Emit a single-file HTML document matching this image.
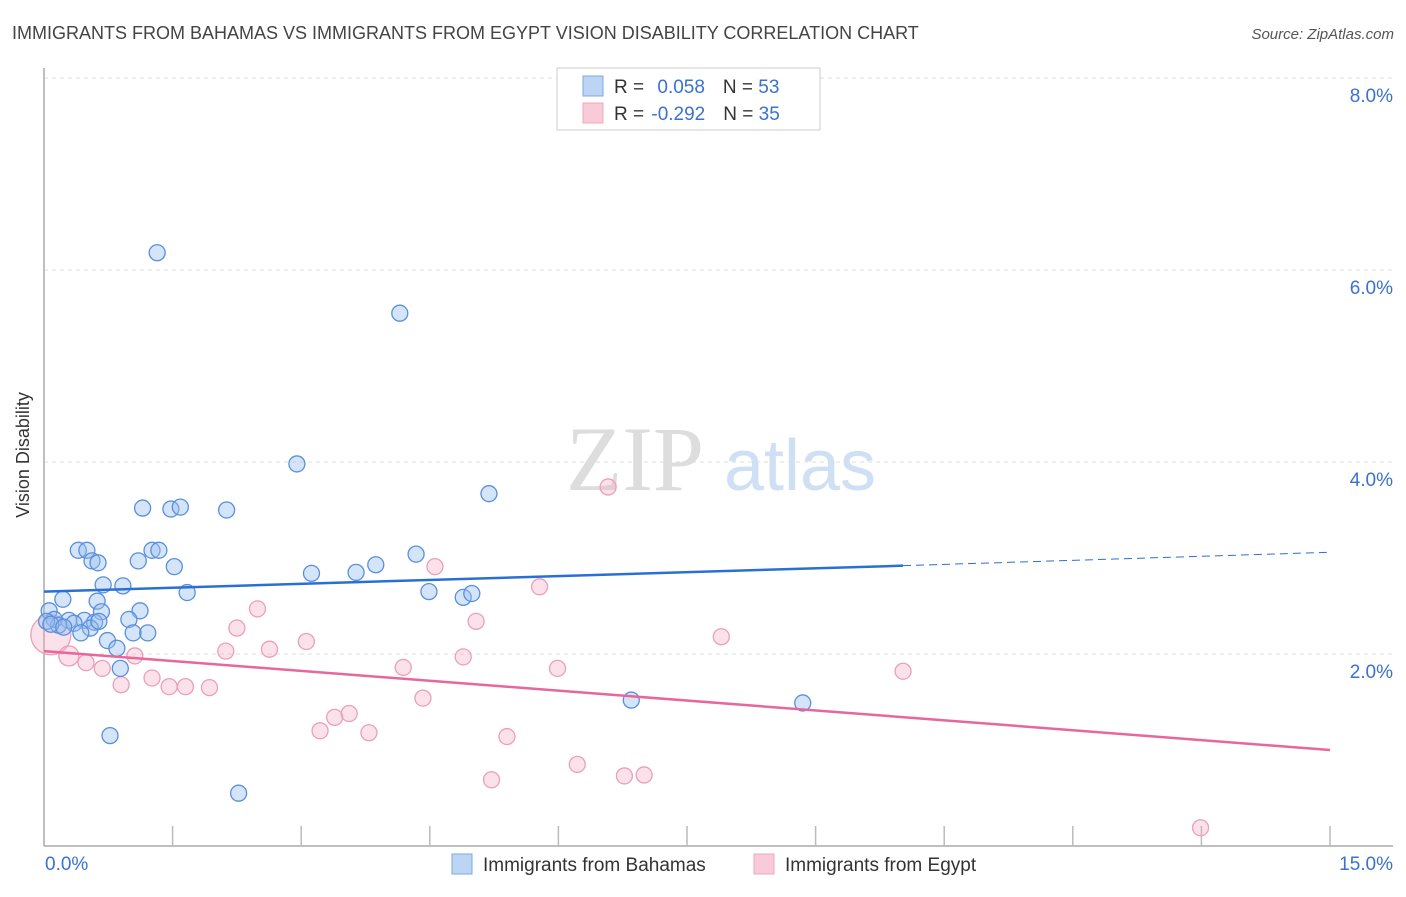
<!DOCTYPE html>
<html><head><meta charset="utf-8"><style>
body{margin:0;background:#fff;font-family:"Liberation Sans",sans-serif}
</style></head><body>
<svg width="1406" height="892" xmlns="http://www.w3.org/2000/svg" id="chart">
<text x="12" y="39" font-size="18" fill="#444">IMMIGRANTS FROM BAHAMAS VS IMMIGRANTS FROM EGYPT VISION DISABILITY CORRELATION CHART</text>
<text x="1394" y="39" font-size="15" fill="#555" font-style="italic" text-anchor="end">Source: ZipAtlas.com</text>
<text x="29" y="455" font-size="18" fill="#333" text-anchor="middle" transform="rotate(-90 29 455)">Vision Disability</text>
<g><text x="635" y="490" font-size="92" fill="#ddd" font-family="Liberation Serif,serif" text-anchor="middle">ZIP</text><text x="800" y="490" font-size="72" fill="#cfe0f5" text-anchor="middle">atlas</text></g>
<g id="grid"></g><g id="axes"></g><g id="pts"></g><g id="lines"></g>
<g>
<rect x="557" y="68" width="263" height="62" fill="#fff" stroke="#ccc"/>
<rect x="583" y="76" width="20" height="20" fill="#bcd5f5" stroke="#7fa8e0"/>
<rect x="583" y="103" width="20" height="20" fill="#f9cbd9" stroke="#ecaabf"/>
<text x="614" y="93" font-size="19" fill="#333">R = <tspan fill="#3a72d0" dx="8">0.058</tspan><tspan dx="18" fill="#333">N = </tspan><tspan fill="#3a72d0">53</tspan></text>
<text x="614" y="120" font-size="19" fill="#333">R = <tspan fill="#3a72d0" dx="2">-0.292</tspan><tspan dx="18" fill="#333">N = </tspan><tspan fill="#3a72d0">35</tspan></text>
</g>
<g>
<rect x="452" y="854" width="20" height="20" fill="#bcd5f5" stroke="#7fa8e0"/>
<text x="483" y="871" font-size="19" fill="#333">Immigrants from Bahamas</text>
<rect x="754" y="854" width="20" height="20" fill="#f9cbd9" stroke="#ecaabf"/>
<text x="785" y="871" font-size="19" fill="#333">Immigrants from Egypt</text>
</g>
</svg>
<script>
const blueX=[1.32,4.15,2.95,5.19,1.15,1.48,1.59,2.13,0.40,0.50,1.26,1.34,0.56,0.63,1.10,1.52,4.34,3.87,3.12,3.64,0.69,0.92,1.67,4.49,4.89,4.99,0.22,0.62,0.06,0.67,1.12,0.12,0.29,0.47,0.59,0.35,0.99,0.54,0.17,0.43,1.04,1.21,0.74,0.85,0.89,6.85,8.85,0.77,2.27,0.03,0.08,0.23,0.64];
const blueY=[6.18,5.55,3.98,3.67,3.52,3.51,3.53,3.50,3.08,3.08,3.08,3.08,2.97,2.95,2.97,2.91,3.04,2.93,2.84,2.85,2.72,2.71,2.64,2.65,2.59,2.63,2.57,2.55,2.45,2.44,2.45,2.36,2.35,2.35,2.33,2.32,2.36,2.27,2.30,2.22,2.22,2.22,2.14,2.06,1.85,1.52,1.49,1.15,0.55,2.34,2.31,2.28,2.34];
const pinkX=[6.58,4.56,5.78,2.49,5.04,2.25,7.90,3.06,0.08,2.63,2.12,0.29,1.06,4.89,0.49,0.68,4.19,5.99,10.02,1.26,0.90,1.46,1.65,1.93,4.42,3.56,3.39,3.22,3.79,5.40,6.22,6.77,7.00,5.22,13.49];
const pinkY=[3.74,2.91,2.70,2.47,2.34,2.27,2.18,2.13,2.20,2.05,2.03,1.98,1.98,1.97,1.91,1.85,1.86,1.85,1.82,1.75,1.68,1.66,1.66,1.65,1.54,1.38,1.34,1.20,1.18,1.14,0.85,0.73,0.74,0.69,0.19];
const pinkR=[8,8,8,8,8,8,8,8,20,8,8,10,8,8,8,8,8,8,8,8,8,8,8,8,8,8,8,8,8,8,8,8,8,8,8];
const blueTrend=[2.65,2.92,3.06]; const blueTrendX=[0,10.02,15];
const pinkTrend=[2.03,1.00];
const yTicks=[2,4,6,8]; const yTickLabels=["2.0%","4.0%","6.0%","8.0%"];
const xTicks=[0,1.5,3,4.5,6,7.5,9,10.5,12,13.5,15];
const NS="http://www.w3.org/2000/svg";
const sx=v=>44+v*(1330-44)/15, sy=v=>846-v*96;
function mk(tag,attrs,parent){const e=document.createElementNS(NS,tag);for(const k in attrs)e.setAttribute(k,attrs[k]);document.getElementById(parent).appendChild(e);return e;}
yTicks.forEach((t,i)=>{
 const l=mk('line',{x1:44,x2:1393,y1:sy(t),y2:sy(t),stroke:'#ddd','stroke-dasharray':'4,4'},'grid');
 
 
 const tx=mk('text',{x:1393,y:sy(t)+24,'font-size':19,fill:'#3a72d0','text-anchor':'end'},'grid');
 tx.textContent=yTickLabels[i];
 
 
});
const ax=mk('line',{x1:44,x2:44,y1:68,y2:846,stroke:'#aaa','stroke-width':1.5},'axes');


const bx=mk('line',{x1:44,x2:1393,y1:846,y2:846,stroke:'#aaa','stroke-width':1.5},'axes');


xTicks.forEach(t=>{if(t===0)return;
 const l=mk('line',{x1:sx(t),x2:sx(t),y1:826,y2:846,stroke:'#bbb','stroke-width':1.5},'axes');
 
 });
const x0=mk('text',{x:45,y:870,'font-size':19,fill:'#3a72d0'},'axes');x0.textContent='0.0%';


const x1=mk('text',{x:1393,y:870,'font-size':19,fill:'#3a72d0','text-anchor':'end'},'axes');x1.textContent='15.0%';


pinkX.forEach((v,i)=>{const c=mk('circle',{cx:sx(v),cy:sy(pinkY[i]),r:pinkR[i],fill:'rgba(244,170,195,0.35)',stroke:'#eaa0b8','stroke-width':1.3},'pts');
 
 });
blueX.forEach((v,i)=>{const c=mk('circle',{cx:sx(v),cy:sy(blueY[i]),r:8,fill:'rgba(150,190,240,0.4)',stroke:'#5a8fdc','stroke-width':1.3},'pts');
 
 });
const b1=mk('line',{x1:sx(blueTrendX[0]),y1:sy(blueTrend[0]),x2:sx(blueTrendX[1]),y2:sy(blueTrend[1]),stroke:'#2a6fd6','stroke-width':2.5},'lines');


const b2=mk('line',{x1:sx(blueTrendX[1]),y1:sy(blueTrend[1]),x2:sx(blueTrendX[2]),y2:sy(blueTrend[2]),stroke:'#2a6fd6','stroke-width':1,'stroke-dasharray':'8,5'},'lines');


const p1=mk('line',{x1:sx(0),y1:sy(pinkTrend[0]),x2:sx(15),y2:sy(pinkTrend[1]),stroke:'#e8679a','stroke-width':2.5},'lines');


</script>
</body></html>
